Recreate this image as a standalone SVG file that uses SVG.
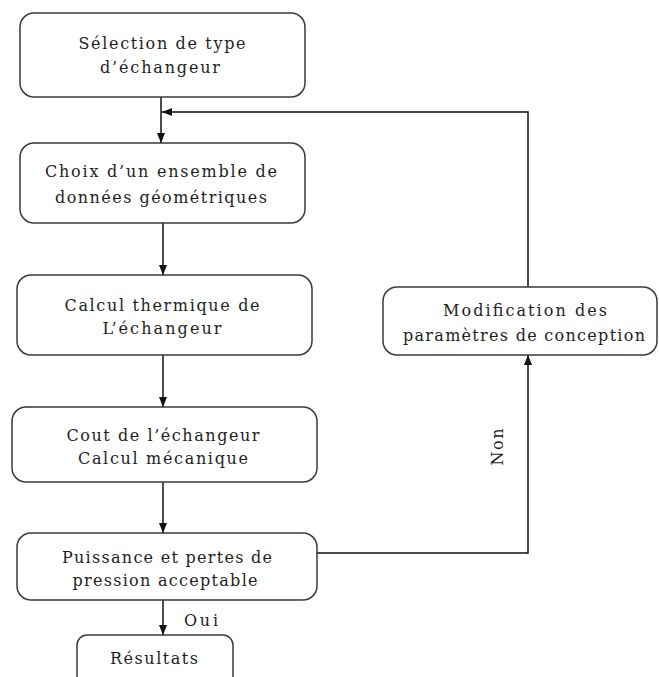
<svg xmlns="http://www.w3.org/2000/svg" width="659" height="677" viewBox="0 0 659 677">
<style>
.box{fill:#fff;stroke:#3a3a3a;stroke-width:1.5}
.t{font-family:"DejaVu Serif","Liberation Serif",serif;font-size:16px;fill:#1e1e1e;text-anchor:middle}
.c{fill:none;stroke:#111;stroke-width:1.5}
</style>
<defs>
<marker id="ah" markerUnits="userSpaceOnUse" markerWidth="10" markerHeight="10" viewBox="0 0 10 10" refX="10" refY="5" orient="auto">
<path d="M0,1 L10,5 L0,9 Z" fill="#111"/>
</marker>
</defs>
<rect width="659" height="677" fill="#fff"/>
<g id="connectors">
<path class="c" d="M161,97 V143" marker-end="url(#ah)"/>
<path class="c" d="M163,223 V275" marker-end="url(#ah)"/>
<path class="c" d="M163,355 V407" marker-end="url(#ah)"/>
<path class="c" d="M163,482 V533" marker-end="url(#ah)"/>
<path class="c" d="M163,600 V635" marker-end="url(#ah)"/>
<path class="c" d="M317,553 H528 V355" marker-end="url(#ah)"/>
<path class="c" d="M528,287 V112 H162" marker-end="url(#ah)"/>
<text class="t" x="201" y="626" textLength="34" lengthAdjust="spacing">Oui</text>
<text class="t" transform="translate(503,447) rotate(-90)" x="0" y="0" textLength="37" lengthAdjust="spacing">Non</text>
</g>
<g id="n1">
<rect class="box" x="20" y="13" width="285" height="84" rx="14"/>
<text class="t" x="162" y="49" textLength="167" lengthAdjust="spacing">Sélection de type</text>
<text class="t" x="160" y="73" textLength="120" lengthAdjust="spacing">d’échangeur</text>
</g>
<g id="n2">
<rect class="box" x="20" y="143" width="285" height="80" rx="14"/>
<text class="t" x="161" y="177" textLength="232" lengthAdjust="spacing">Choix d’un ensemble de</text>
<text class="t" x="161" y="203" textLength="212" lengthAdjust="spacing">données géométriques</text>
</g>
<g id="n3">
<rect class="box" x="17" y="275" width="295" height="80" rx="14"/>
<text class="t" x="162" y="311" textLength="195" lengthAdjust="spacing">Calcul thermique de</text>
<text class="t" x="162" y="334" textLength="119" lengthAdjust="spacing">L’échangeur</text>
</g>
<g id="n4">
<rect class="box" x="12" y="407" width="305" height="75" rx="14"/>
<text class="t" x="163" y="441" textLength="193" lengthAdjust="spacing">Cout de l’échangeur</text>
<text class="t" x="163" y="464" textLength="170" lengthAdjust="spacing">Calcul mécanique</text>
</g>
<g id="n5">
<rect class="box" x="17" y="533" width="300" height="67" rx="14"/>
<text class="t" x="167" y="563" textLength="210" lengthAdjust="spacing">Puissance et pertes de</text>
<text class="t" x="165" y="586" textLength="185" lengthAdjust="spacing">pression acceptable</text>
</g>
<g id="n6">
<rect class="box" x="77" y="635" width="156" height="60" rx="10"/>
<text class="t" x="154" y="664" textLength="88" lengthAdjust="spacing">Résultats</text>
</g>
<g id="n7">
<rect class="box" x="383" y="287" width="274" height="68" rx="14"/>
<text class="t" x="525" y="316" textLength="164" lengthAdjust="spacing">Modification des</text>
<text class="t" x="524" y="341" textLength="242" lengthAdjust="spacing">paramètres de conception</text>
</g>
</svg>
